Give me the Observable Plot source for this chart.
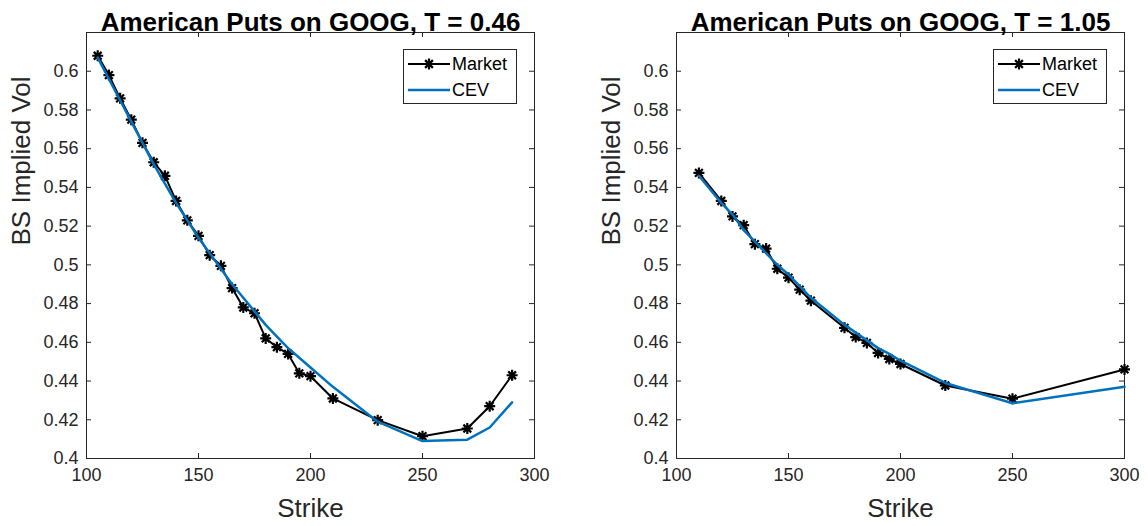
<!DOCTYPE html>
<html><head><meta charset="utf-8">
<script src="https://cdn.jsdelivr.net/npm/d3@7"></script>
<script src="https://cdn.jsdelivr.net/npm/@observablehq/plot@0.6"></script>
<style>
body{margin:0;background:#fff;}
#wrap{display:flex;width:1148px;height:526px;}
.panel{position:relative;width:574px;height:526px;}
.legend{position:absolute;border:1px solid #262626;background:#fff;box-sizing:border-box;}
</style></head><body><div id="wrap"></div>
<script>
// ---- data ----
const strikesL = [105,110,115,120,125,130,135,140,145,150,155,160,165,170,175,180,185,190,195,200,210,230,250,270,280,290];
const marketL  = [0.608,0.598,0.586,0.575,0.563,0.553,0.546,0.533,0.523,0.515,0.505,0.4995,0.488,0.478,0.475,0.462,0.4575,0.454,0.444,0.4425,0.431,0.4198,0.4115,0.4155,0.427,0.443];
const cevL     = [0.607,0.596,0.585,0.574,0.563,0.552,0.542,0.532,0.523,0.514,0.506,0.498,0.490,0.483,0.476,0.469,0.463,0.457,0.452,0.447,0.437,0.419,0.409,0.4097,0.416,0.429];
const strikesR = [110,120,125,130,135,140,145,150,155,160,175,180,185,190,195,200,220,250,300];
const marketR  = [0.5475,0.533,0.525,0.5205,0.5107,0.5084,0.498,0.4934,0.4872,0.4815,0.4675,0.4627,0.4597,0.4545,0.4514,0.4488,0.4377,0.4309,0.446];
const cevR     = [0.546,0.532,0.526,0.518,0.512,0.506,0.500,0.495,0.489,0.483,0.469,0.465,0.461,0.457,0.454,0.4505,0.439,0.4285,0.437];
const xTicks = [100,150,200,250,300];
const yTicks = [0.4,0.42,0.44,0.46,0.48,0.5,0.52,0.54,0.56,0.58,0.6];
const titles = ["American Puts on GOOG, T = 0.46","American Puts on GOOG, T = 1.05"];
const seriesNames = ["Market","CEV"];
const xLabel = "Strike";
const yLabel = "BS Implied Vol";

const FONT = '"Liberation Sans", Arial, Helvetica, sans-serif';
const BLUE = "#0072BD";
const star = {draw(ctx, size){
  const r = Math.sqrt(size/Math.PI);
  for (let k=0;k<4;k++){const a=k*Math.PI/4;ctx.moveTo(r*Math.cos(a),r*Math.sin(a));ctx.lineTo(-r*Math.cos(a),-r*Math.sin(a));}
}};

function chart(strikes, market, cev, title, ml, mr){
  const W=574,H=526,MT=32,MB=68;
  const fw = W-ml-mr, fh = H-MT-MB;
  const mk = strikes.map((s,i)=>({strike:s, vol:market[i]}));
  const cv = strikes.map((s,i)=>({strike:s, vol:cev[i]}));
  return Plot.plot({
    width:W, height:H, marginLeft:ml, marginRight:mr, marginTop:MT, marginBottom:MB,
    style:{fontFamily:FONT, fontSize:"18px", color:"#262626", background:"#fff", overflow:"visible"},
    x:{domain:[100,300]},
    y:{domain:[0.4,0.62]},
    marks:[
      Plot.axisX({ticks:xTicks, tickSize:0, tickPadding:10, label:null, tickFormat:d=>String(d)}),
      Plot.axisY({ticks:yTicks, tickSize:0, tickPadding:8, label:null, tickFormat:d=>String(+d.toFixed(2))}),
      Plot.tickX(xTicks, {x:d=>d, insetTop:fh-5, stroke:"#262626"}),
      Plot.tickX(xTicks, {x:d=>d, insetBottom:fh-5, stroke:"#262626"}),
      Plot.tickY(yTicks, {y:d=>d, insetRight:fw-5, stroke:"#262626"}),
      Plot.tickY(yTicks, {y:d=>d, insetLeft:fw-5, stroke:"#262626"}),
      Plot.frame({stroke:"#262626"}),
      Plot.line(mk, {x:"strike", y:"vol", stroke:"#000", strokeWidth:2}),
      Plot.dot(mk, {x:"strike", y:"vol", symbol:star, r:5.5, stroke:"#000", strokeWidth:2.2, fill:"none"}),
      Plot.line(cv, {x:"strike", y:"vol", stroke:BLUE, strokeWidth:2.5}),
      Plot.text([title], {frameAnchor:"top", dy:-20, fontWeight:"bold", fontSize:26, fill:"#000"}),
      Plot.text([xLabel], {frameAnchor:"bottom", dy:58, fontSize:26, fill:"#262626"}),
      Plot.text([yLabel], {frameAnchor:"left", dx:-65, rotate:-90, fontSize:26, fill:"#262626"})
    ]
  });
}

function legend(left){
  const d = document.createElement("div");
  d.className="legend";
  d.style.left = left+"px"; d.style.top="49px"; d.style.width="114px"; d.style.height="55px";
  const ns="http://www.w3.org/2000/svg";
  const s = document.createElementNS(ns,"svg");
  s.setAttribute("width","112"); s.setAttribute("height","53");
  s.style.display="block";
  const rows=[{y:14,c:"#000",m:true},{y:40,c:BLUE,m:false}];
  rows.forEach((r,i)=>{
    const l=document.createElementNS(ns,"line");
    l.setAttribute("x1",4);l.setAttribute("x2",46);l.setAttribute("y1",r.y);l.setAttribute("y2",r.y);
    l.setAttribute("stroke",r.c);l.setAttribute("stroke-width",i?2.5:2);s.appendChild(l);
    if(r.m){
      const p=document.createElementNS(ns,"path");const R=5.5;let dd="";
      for(let k=0;k<4;k++){const a=k*Math.PI/4;dd+=`M${25+R*Math.cos(a)},${r.y+R*Math.sin(a)}L${25-R*Math.cos(a)},${r.y-R*Math.sin(a)}`;}
      p.setAttribute("d",dd);p.setAttribute("stroke","#000");p.setAttribute("stroke-width",2.2);s.appendChild(p);
    }
    const t=document.createElementNS(ns,"text");
    t.setAttribute("x",48);t.setAttribute("y",r.y);t.setAttribute("dy","0.35em");
    t.setAttribute("font-family",FONT);t.setAttribute("font-size",18);t.setAttribute("fill","#000");
    t.textContent=seriesNames[i];s.appendChild(t);
  });
  d.appendChild(s);
  return d;
}

const wrap=document.getElementById("wrap");
const p1=document.createElement("div");p1.className="panel";
p1.appendChild(chart(strikesL,marketL,cevL,titles[0],86,40));
p1.appendChild(legend(403));
const p2=document.createElement("div");p2.className="panel";
p2.appendChild(chart(strikesR,marketR,cevR,titles[1],102,24));
p2.appendChild(legend(419));
wrap.appendChild(p1);wrap.appendChild(p2);
</script></body></html>
